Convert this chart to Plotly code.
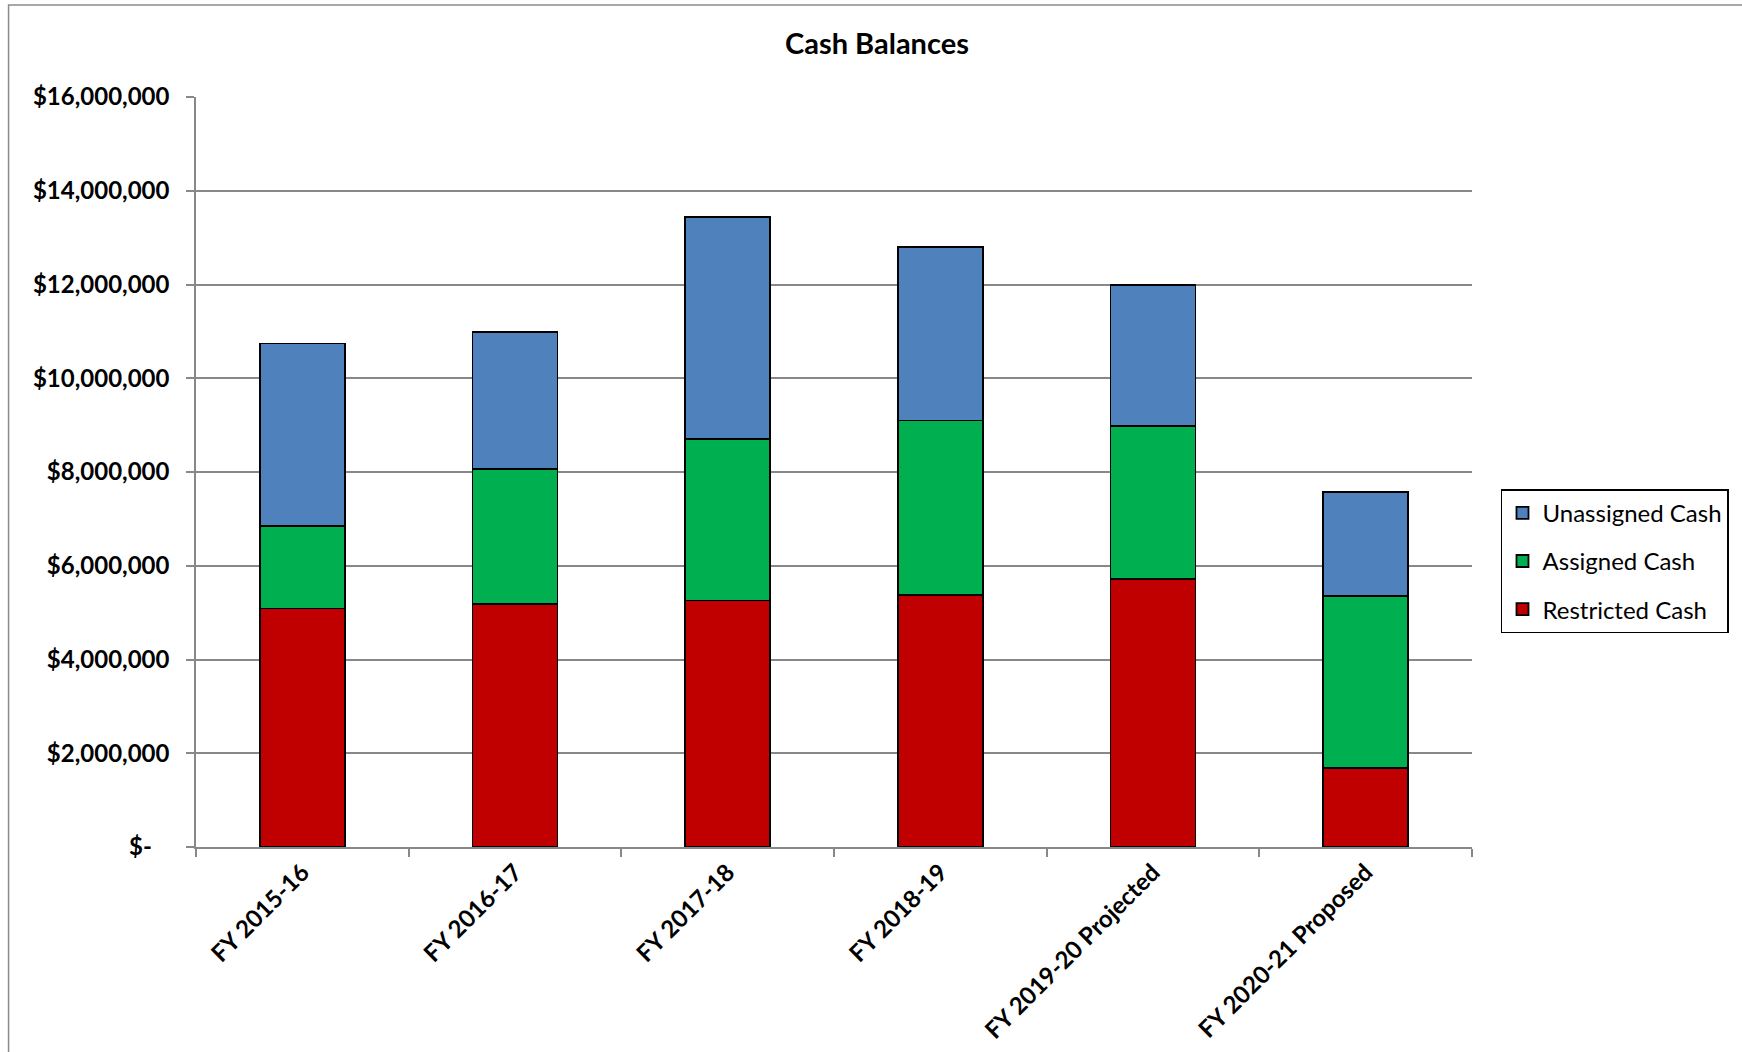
import plotly.graph_objects as go

categories = ["FY 2015-16", "FY 2016-17", "FY 2017-18", "FY 2018-19",
              "FY 2019-20 Projected", "FY 2020-21 Proposed"]
restricted = [5090000, 5190000, 5260000, 5380000, 5710000, 1680000]
assigned = [1750000, 2880000, 3440000, 3720000, 3270000, 3680000]
unassigned = [3900000, 2910000, 4740000, 3700000, 3010000, 2220000]

tick_vals = [0, 2000000, 4000000, 6000000, 8000000, 10000000, 12000000, 14000000, 16000000]
tick_text = ["$-\u00a0\u00a0\u00a0", "$2,000,000", "$4,000,000", "$6,000,000", "$8,000,000",
             "$10,000,000", "$12,000,000", "$14,000,000", "$16,000,000"]

FONT = "Lato"
series = [
    ("Restricted Cash", restricted, "#C00000", 3),
    ("Assigned Cash", assigned, "#00B050", 2),
    ("Unassigned Cash", unassigned, "#4F81BD", 1),
]

fig = go.Figure()
for name, vals, color, rank in series:
    fig.add_trace(go.Bar(
        x=categories, y=vals, name=name, legendgroup=name, legendrank=rank,
        marker=dict(color=color, line=dict(color="black", width=1.8)),
    ))

W, H = 1742, 1052
L, R, T, B = 195.5, 270, 97, 205.4
pw = W - L - R
ph = H - T - B

def px_x(x):
    return (x - L) / pw

def px_y(y):
    return (H - B - y) / ph

fig.update_layout(
    width=W, height=H,
    margin=dict(l=L, r=R, t=T, b=B, autoexpand=False),
    paper_bgcolor="white", plot_bgcolor="white",
    barmode="stack", bargap=0.6,
    font=dict(family=FONT, color="black"),
    title=dict(text="<b>Cash Balances</b>", x=877 / W, xref="container", xanchor="center",
               y=1 - 44 / H, yref="container", yanchor="middle",
               font=dict(size=29, family=FONT, color="black")),
    legend=dict(
        x=px_x(1501), y=px_y(489), xanchor="left", yanchor="top",
        bordercolor="black", borderwidth=1.5, bgcolor="white",
        font=dict(size=24, family=FONT, color="black"),
        traceorder="grouped", tracegroupgap=14,
        itemwidth=30,
    ),
    xaxis=dict(
        showline=True, linecolor="#888888", linewidth=1.5,
        ticks="outside", ticklen=8, tickcolor="#888888", tickwidth=1.5,
        tickson="boundaries", tickangle=-45,
        tickfont=dict(size=24, family=FONT, color="black", weight="bold"),
        showgrid=False,
    ),
    yaxis=dict(
        range=[0, 16000000],
        tickvals=tick_vals, ticktext=tick_text,
        showline=True, linecolor="#888888", linewidth=1.5,
        ticks="outside", ticklen=8, tickcolor="#888888", tickwidth=1.5,
        showgrid=True, gridcolor="#888888", gridwidth=1.5,
        ticklabelstandoff=12,
        tickfont=dict(size=24, family=FONT, color="black", weight="bold"),
        zeroline=False,
    ),
    shapes=[dict(type="rect", xref="paper", yref="paper",
                 x0=px_x(8), x1=px_x(1760), y0=px_y(1070), y1=px_y(5),
                 line=dict(color="#8c8c8c", width=1.5), fillcolor="rgba(0,0,0,0)",
                 layer="below")],
)

fig.write_html("out.html")
